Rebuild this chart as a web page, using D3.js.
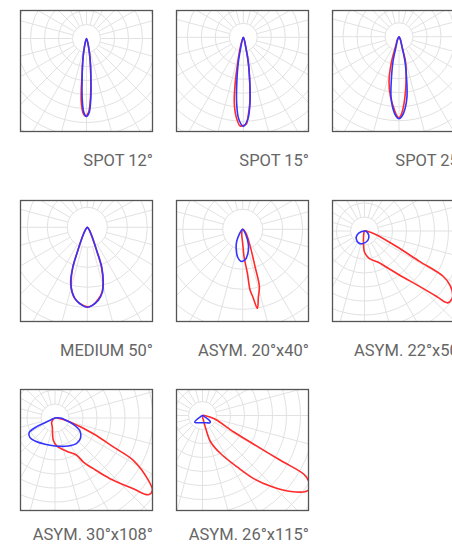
<!DOCTYPE html>
<html><head><meta charset="utf-8">
<script src="https://cdn.jsdelivr.net/npm/d3@7"></script>
<style>body{margin:0;background:#fff}svg{display:block}</style>
</head><body>
<svg id="c" width="452" height="544"></svg>
<script>
// labels
const panelLabels = ["SPOT 12°", "SPOT 15°", "SPOT 25°", "MEDIUM 50°", "ASYM. 20°x40°", "ASYM. 22°x50°", "ASYM. 30°x108°", "ASYM. 26°x115°"];

// polar series: [angle from nadir in degrees (+ = right), intensity in grid rings]
const spot12Red  = [[-30,0],[-14,0.6],[-10,1.45],[-8,2.1],[-6.5,3.0],[-5.8,3.7],[-4.5,4.65],[-2.5,5.35],[-0.8,5.55],[1.5,5.3],[3.2,4.6],[4.8,3.7],[6,3.0],[8,2.1],[10,1.45],[14,0.6]];
const spot12Blue = [[-30,0],[-14,0.6],[-10,1.45],[-8,2.1],[-6,3.0],[-5,3.7],[-3.5,4.65],[-2,5.3],[0,5.57],[2,5.3],[3.5,4.65],[5,3.7],[6,3.0],[8,2.1],[10,1.45],[14,0.6]];

const spot15Red  = [[-30,0],[-20,0.25],[-16.7,0.75],[-12.4,1.83],[-10.1,3.26],[-7.9,4.69],[-5,5.74],[-2,6.34],[0,6.3],[2,6.2],[3.6,5.6],[5.9,4.6],[8.2,3.2],[11.3,1.8],[14,0.72],[20,0.25]];
const spot15Blue = [[-30,0],[-20,0.25],[-14,0.74],[-11.3,1.82],[-8.2,3.25],[-5.9,4.66],[-3.6,5.73],[-1.5,6.2],[0,6.36],[1.5,6.2],[3.6,5.73],[5.9,4.66],[8.2,3.25],[11.3,1.82],[14,0.74],[20,0.25]];

const spot25Red  = [[-40,0],[-30,0.2],[-19.3,0.76],[-16.7,1.86],[-12.5,3.29],[-8.1,4.33],[-4,5.15],[-1.5,5.65],[0,5.8],[1.5,5.6],[3.2,5.15],[5.7,4.3],[8.9,3.25],[14.6,1.85],[16.7,0.75],[25,0.25]];
const spot25Blue = [[-45,0],[-35,0.07],[-25,0.25],[-16.7,0.75],[-13.5,1.84],[-9.8,3.26],[-7.6,4.32],[-4.8,5.16],[-2,5.7],[0,5.86],[2,5.7],[4.8,5.16],[7.6,4.32],[9.8,3.26],[13.5,1.84],[16.7,0.75],[25,0.25],[35,0.07]];

const medium50Red  = [[-60,0],[-45,0.05],[-35,0.2],[-27,0.57],[-22,1.36],[-20,2.12],[-16.5,2.85],[-13.5,3.3],[-10,3.62],[-5,3.85],[0,3.98],[4,3.9],[9,3.62],[13,3.3],[16,2.85],[19.5,2.12],[21.5,1.35],[26,0.56],[35,0.2],[45,0.05]];
const medium50Blue = [[-60,0],[-45,0.05],[-35,0.2],[-26.6,0.56],[-21.8,1.35],[-19.9,2.13],[-16.8,2.88],[-13,3.34],[-8.6,3.69],[-3.7,3.91],[0,4.0],[3.7,3.91],[8.6,3.69],[13,3.34],[16.2,2.86],[19.9,2.13],[21.8,1.35],[26.6,0.56],[35,0.2],[45,0.05]];

const asym2040Red  = [[-30,0],[-14,0.2],[0,0.7],[2.8,1.37],[6.1,2.21],[6.9,3.06],[8.45,3.4],[10.5,4.02],[13.1,3.46],[16.2,2.99],[18.3,1.97],[25.6,0.78],[39.5,0.26]];
const asym2040Blue = [[-70,0],[-60,0.05],[-37,0.25],[-26.6,0.67],[-18,1.05],[-10.1,1.42],[-3.6,1.6],[3.7,1.55],[11.3,1.27],[20.8,0.8],[31,0.29],[45,0.08]];

const asym2250Red  = [[-30,0],[-14.5,0.2],[-5.2,0.79],[0,1.5],[10.2,2.0],[23.2,2.41],[31.1,3.0],[39.8,4.28],[44.8,5.57],[47.7,6.93],[49.2,7.86],[52.3,7.9],[53.9,7.8],[57.6,7.24],[60.1,6.45],[61.1,4.49],[64.2,2.51],[72.4,0.88],[85,0.2]];
const asym2250Blue = [[-90,0],[-80,0.2],[-63,0.58],[-47,0.81],[-25.4,0.95],[-10.3,0.92],[19.5,0.71],[45,0.43],[80,0.12]];

const asym30108Red  = [[-60,0],[-39.5,0.37],[-16.7,0.67],[-4.3,1.6],[3.5,2.0],[19.3,2.52],[30.2,3.08],[32.8,3.74],[37.1,4.54],[42.2,5.85],[47.9,7.54],[50.6,8.63],[53.4,8.66],[56.3,8.01],[61.6,6.36],[63.6,4.65],[67.7,2.96],[75,1.11],[85,0.3]];
const asym30108Blue = [[-90,0],[-66,0.3],[-64.8,0.79],[-64.1,1.59],[-60.5,2.13],[-51.8,2.27],[-41,2.18],[-20.8,2.01],[0,2.0],[25.4,2.21],[40.6,2.38],[52.5,2.31],[62.5,2.01],[71,1.38],[80,0.7],[87.4,0.48]];

const asym26115Red  = [[-30,0],[11.3,0.36],[13.9,0.98],[17.3,2.0],[25.5,3.03],[34.1,4.46],[39.2,5.84],[44,7.02],[49.3,8.32],[53.7,9.16],[56,9.28],[58,8.99],[59.9,8.37],[60.1,6.45],[60.7,4.23],[62.2,2.56],[74.3,0.87],[85,0.2]];
const asym26115Blue = [[-90,0],[-60,0.1],[-50,0.72],[-45,0.72],[-30,0.6],[-15,0.54],[0,0.52],[15,0.54],[30,0.6],[45,0.74],[52,0.7],[62,0.1]];

// layout
const boxW = 133, boxH = 122;
const colX = [20, 176, 332], rowY = [10, 200, 389], labelDy = [156, 156, 151];
const panels = [
  {red: spot12Red,  blue: spot12Blue,  ring: 14, col: 0, row: 0, cx: 66.5, cy: 28.5},
  {red: spot15Red,  blue: spot15Blue,  ring: 14, col: 1, row: 0, cx: 67.3, cy: 27.3},
  {red: spot25Red,  blue: spot25Blue,  ring: 14, col: 2, row: 0, cx: 67,   cy: 26.7},
  {red: medium50Red, blue: medium50Blue, ring: 20, col: 0, row: 1, cx: 67.3, cy: 27.3},
  {red: asym2040Red, blue: asym2040Blue, ring: 20, col: 1, row: 1, cx: 66.7, cy: 29.3},
  {red: asym2250Red, blue: asym2250Blue, ring: 14, col: 2, row: 1, cx: 32.5, cy: 31},
  {red: asym30108Red, blue: asym30108Blue, ring: 14, col: 0, row: 2, cx: 35, cy: 29},
  {red: asym26115Red, blue: asym26115Blue, ring: 14, col: 1, row: 2, cx: 26.5, cy: 26.5}
];

const svg = d3.select("#c");
const angle = d3.scaleLinear().domain([0, 180]).range([Math.PI, 0]);
const gridAngles = d3.range(0, 360, 15);

panels.forEach((p, i) => {
  const x0 = colX[p.col], y0 = rowY[p.row];
  const g = svg.append("g").attr("transform", `translate(${x0},${y0})`);
  const clipId = "clip" + i;
  g.append("clipPath").attr("id", clipId).append("rect").attr("width", boxW).attr("height", boxH);
  g.append("rect").attr("width", boxW).attr("height", boxH).attr("fill", "#fff");
  const inner = g.append("g").attr("clip-path", `url(#${clipId})`);
  const grid = inner.append("g").attr("transform", `translate(${p.cx},${p.cy})`);
  const radius = d3.scaleLinear().domain([0, 1]).range([0, p.ring]);
  d3.range(1, 14).forEach(k => {
    grid.append("circle").attr("r", radius(k)).attr("fill", "none").attr("stroke", "#e2e2e2").attr("stroke-width", 1);
  });
  gridAngles.forEach(a => {
    const t = a * Math.PI / 180;
    grid.append("line")
      .attr("x1", radius(1) * Math.sin(t)).attr("y1", radius(1) * Math.cos(t))
      .attr("x2", radius(14) * Math.sin(t)).attr("y2", radius(14) * Math.cos(t))
      .attr("stroke", "#e2e2e2").attr("stroke-width", 1);
  });
  const line = d3.lineRadial()
    .angle(d => angle(d[0]))
    .radius(d => radius(d[1]))
    .curve(d3.curveCatmullRomClosed.alpha(0.5));
  grid.append("path").attr("d", line(p.red)).attr("fill", "none").attr("stroke", "#ff2b2b").attr("stroke-width", 1.6).attr("stroke-linejoin", "round");
  grid.append("path").attr("d", line(p.blue)).attr("fill", "none").attr("stroke", "#3434ff").attr("stroke-width", 1.6).attr("stroke-linejoin", "round");
  g.append("rect").attr("x", 0.5).attr("y", 0.5).attr("width", boxW - 1).attr("height", boxH - 1)
    .attr("fill", "none").attr("stroke", "#555").attr("stroke-width", 1.3);
  g.append("text").attr("x", boxW).attr("y", labelDy[p.row])
    .attr("text-anchor", "end")
    .attr("font-family", "Roboto, sans-serif").attr("font-size", 16.5)
    .attr("fill", "#666")
    .text(panelLabels[i]);
});
</script>
</body></html>
